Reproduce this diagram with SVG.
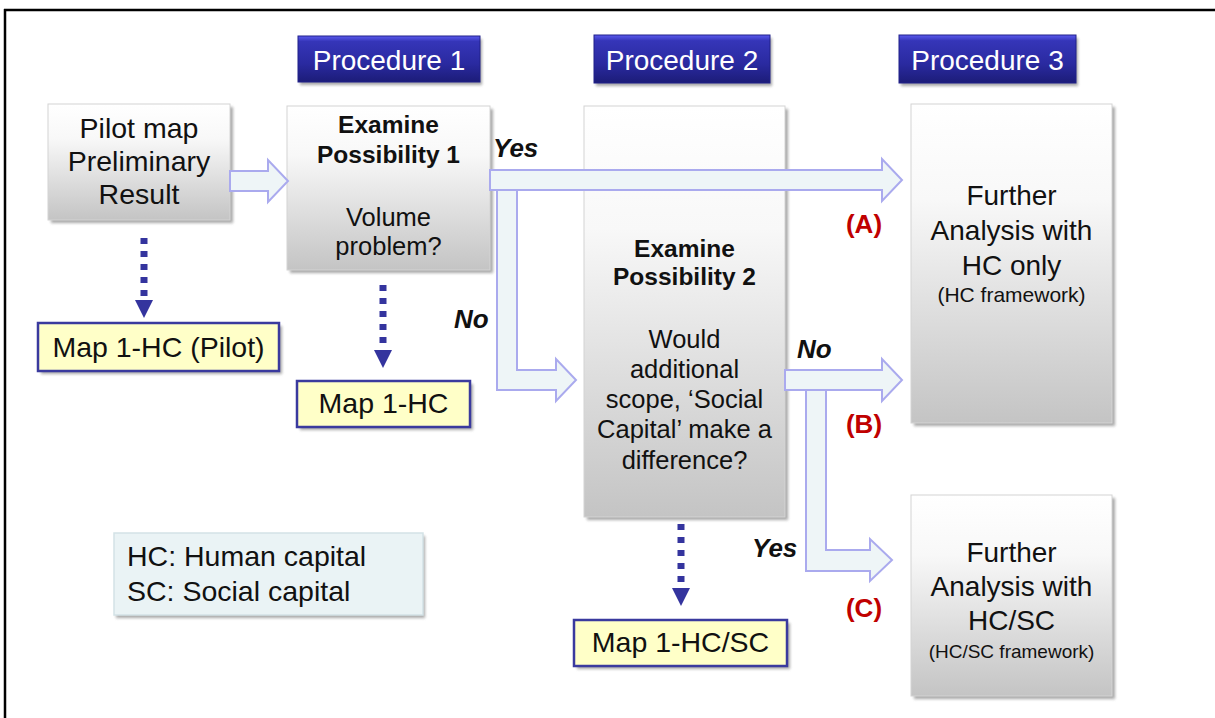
<svg xmlns="http://www.w3.org/2000/svg" width="1215" height="718" viewBox="0 0 1215 718">
  <defs>
    <linearGradient id="grayFill" x1="0" y1="0" x2="0" y2="1">
      <stop offset="0" stop-color="#ffffff"/>
      <stop offset="0.3" stop-color="#f8f8f8"/>
      <stop offset="1" stop-color="#c4c4c4"/>
    </linearGradient>
    <linearGradient id="headFill" x1="0" y1="0" x2="0" y2="1">
      <stop offset="0" stop-color="#5a5aee"/>
      <stop offset="0.12" stop-color="#3535b8"/>
      <stop offset="0.6" stop-color="#2a2aa0"/>
      <stop offset="1" stop-color="#1c1c78"/>
    </linearGradient>
    <filter id="shadow" x="-10%" y="-10%" width="130%" height="130%">
      <feGaussianBlur stdDeviation="1.6"/>
    </filter>
    <!-- triangle drawn along +x so orient="auto" points it down the line -->
    <marker id="dotHead" viewBox="0 0 18 18" refX="2" refY="9" markerWidth="18" markerHeight="18" markerUnits="userSpaceOnUse" orient="auto">
      <path d="M0,0 L18,9 L0,18 Z" fill="#34349e"/>
    </marker>
  </defs>
  <style>
    .shade { fill: #8c8c8c; opacity: 0.75; filter: url(#shadow); }
    .gbox { fill: url(#grayFill); stroke: #d4d4d4; stroke-width: 1; }
    .hbox { fill: url(#headFill); stroke: #20208a; stroke-width: 1; }
    .ybox { fill: #ffffc8; stroke: #3a3a9e; stroke-width: 2.5; }
    .lbox { fill: #eaf3f5; stroke: #d3e2e6; stroke-width: 1.5; }
    .t { font-family: "Liberation Sans", Arial, sans-serif; fill: #111; text-anchor: middle; }
    .s { text-anchor: start; }
    .b { font-weight: bold; }
    .head { font-family: "Liberation Sans", Arial, sans-serif; fill: #ffffff; font-size: 28px; text-anchor: middle; }
    .lbl { font-family: "Liberation Sans", Arial, sans-serif; font-weight: bold; font-style: italic; font-size: 26px; fill: #111; }
    .red { font-family: "Liberation Sans", Arial, sans-serif; font-weight: bold; font-size: 26px; fill: #c00000; text-anchor: middle; }
    .block { fill: #eef5f7; stroke: #aaaaee; stroke-width: 2; stroke-linejoin: miter; }
    .dots { stroke: #34349e; stroke-width: 7; stroke-dasharray: 6 7; fill: none; }
  </style>

  <rect width="1215" height="718" fill="#ffffff"/>

  <!-- outer frame: top and left rules -->
  <path d="M4,10 H1215 M5,9 V718" stroke="#000" stroke-width="2.5" fill="none"/>

  <!-- column headers -->
  <g id="procedure1">
    <rect class="shade" x="300" y="39" width="182" height="46"/>
    <rect class="hbox" x="298" y="36" width="182" height="46"/>
    <text class="head" x="389" y="70">Procedure 1</text>
  </g>
  <g id="procedure2">
    <rect class="shade" x="596" y="38" width="176" height="48"/>
    <rect class="hbox" x="594" y="35" width="176" height="48"/>
    <text class="head" x="682" y="70">Procedure 2</text>
  </g>
  <g id="procedure3">
    <rect class="shade" x="901" y="38" width="177" height="48"/>
    <rect class="hbox" x="899" y="35" width="177" height="48"/>
    <text class="head" x="987.5" y="70">Procedure 3</text>
  </g>

  <!-- process boxes -->
  <g id="pilot-map">
    <rect class="shade" x="51" y="107" width="182" height="116"/>
    <rect class="gbox" x="48" y="104" width="182" height="116"/>
    <text class="t" font-size="28.5" x="139" y="138">Pilot map</text>
    <text class="t" font-size="28.5" x="139" y="171">Preliminary</text>
    <text class="t" font-size="28.5" x="139" y="204">Result</text>
  </g>

  <g id="possibility1">
    <rect class="shade" x="290" y="109" width="203" height="164"/>
    <rect class="gbox" x="287" y="106" width="203" height="164"/>
    <text class="t b" font-size="24.5" x="388.5" y="133">Examine</text>
    <text class="t b" font-size="24.5" x="388.5" y="163">Possibility 1</text>
    <text class="t" font-size="25.5" x="388.5" y="226">Volume</text>
    <text class="t" font-size="25.5" x="388.5" y="255">problem?</text>
  </g>

  <g id="possibility2">
    <rect class="shade" x="587" y="109" width="201" height="411"/>
    <rect class="gbox" x="584" y="106" width="201" height="411"/>
    <text class="t b" font-size="24.5" x="684.5" y="257">Examine</text>
    <text class="t b" font-size="24.5" x="684.5" y="285">Possibility 2</text>
    <text class="t" font-size="25.5" x="684.5" y="348">Would</text>
    <text class="t" font-size="25.5" x="684.5" y="378">additional</text>
    <text class="t" font-size="25.5" x="684.5" y="408">scope, ‘Social</text>
    <text class="t" font-size="25.5" x="684.5" y="438">Capital’ make a</text>
    <text class="t" font-size="25.5" x="684.5" y="469">difference?</text>
  </g>

  <g id="analysis-hc">
    <rect class="shade" x="914" y="107" width="201" height="319"/>
    <rect class="gbox" x="911" y="104" width="201" height="319"/>
    <text class="t" font-size="28" x="1011.5" y="205">Further</text>
    <text class="t" font-size="28" x="1011.5" y="240">Analysis with</text>
    <text class="t" font-size="28" x="1011.5" y="275">HC only</text>
    <text class="t" font-size="21" x="1011.5" y="302">(HC framework)</text>
  </g>

  <g id="analysis-hcsc">
    <rect class="shade" x="914" y="498" width="201" height="201"/>
    <rect class="gbox" x="911" y="495" width="201" height="201"/>
    <text class="t" font-size="28" x="1011.5" y="562">Further</text>
    <text class="t" font-size="28" x="1011.5" y="596">Analysis with</text>
    <text class="t" font-size="28" x="1011.5" y="630">HC/SC</text>
    <text class="t" font-size="19" x="1011.5" y="658">(HC/SC framework)</text>
  </g>

  <!-- map outputs -->
  <g id="map-pilot">
    <rect class="shade" x="41" y="326" width="241" height="48"/>
    <rect class="ybox" x="38" y="323" width="241" height="48"/>
    <text class="t" font-size="28.5" x="158.5" y="357">Map 1-HC (Pilot)</text>
  </g>
  <g id="map-hc">
    <rect class="shade" x="300" y="384" width="173" height="46"/>
    <rect class="ybox" x="297" y="381" width="173" height="46"/>
    <text class="t" font-size="28.5" x="383.5" y="413">Map 1-HC</text>
  </g>
  <g id="map-hcsc">
    <rect class="shade" x="577" y="623" width="213" height="46"/>
    <rect class="ybox" x="574" y="620" width="213" height="46"/>
    <text class="t" font-size="28.5" x="680.5" y="652">Map 1-HC/SC</text>
  </g>

  <!-- abbreviations -->
  <g id="legend">
    <rect class="shade" x="116" y="536" width="309" height="82" opacity="0.35"/>
    <rect class="lbox" x="114" y="533" width="309" height="82"/>
    <text class="t s" font-size="28.5" x="127" y="566">HC: Human capital</text>
    <text class="t s" font-size="28.5" x="127" y="601">SC: Social capital</text>
  </g>

  <!-- connectors -->
  <g id="connectors">
    <!-- hollow block arrows -->
    <path class="block" d="M230,171 H268 V160 L288,181 L268,202 V191 H230 Z"/>
    <path class="block" d="M497,189 H517 V370 H556 V359 L576,380 L556,401 V390 H497 Z"/>
    <path class="block" d="M490,170 H882 V159 L902,180 L882,201 V190 H490 Z"/>
    <path class="block" d="M806,389 H826 V550 H870 V539 L892,560 L870,581 V571 H806 Z"/>
    <path class="block" d="M785,370 H882 V359 L902,380 L882,401 V390 H785 Z"/>

    <!-- dotted output arrows -->
    <path class="dots" d="M144,238 V302" marker-end="url(#dotHead)"/>
    <path class="dots" d="M383,285 V352" marker-end="url(#dotHead)"/>
    <path class="dots" d="M681,524 V590" marker-end="url(#dotHead)"/>

    <!-- branch labels -->
    <text class="lbl" x="493" y="157">Yes</text>
    <text class="lbl" x="454" y="328">No</text>
    <text class="lbl" x="797" y="358">No</text>
    <text class="lbl" x="752" y="557">Yes</text>
    <text class="red" x="864" y="233">(A)</text>
    <text class="red" x="864" y="433">(B)</text>
    <text class="red" x="864" y="617">(C)</text>
  </g>
</svg>
